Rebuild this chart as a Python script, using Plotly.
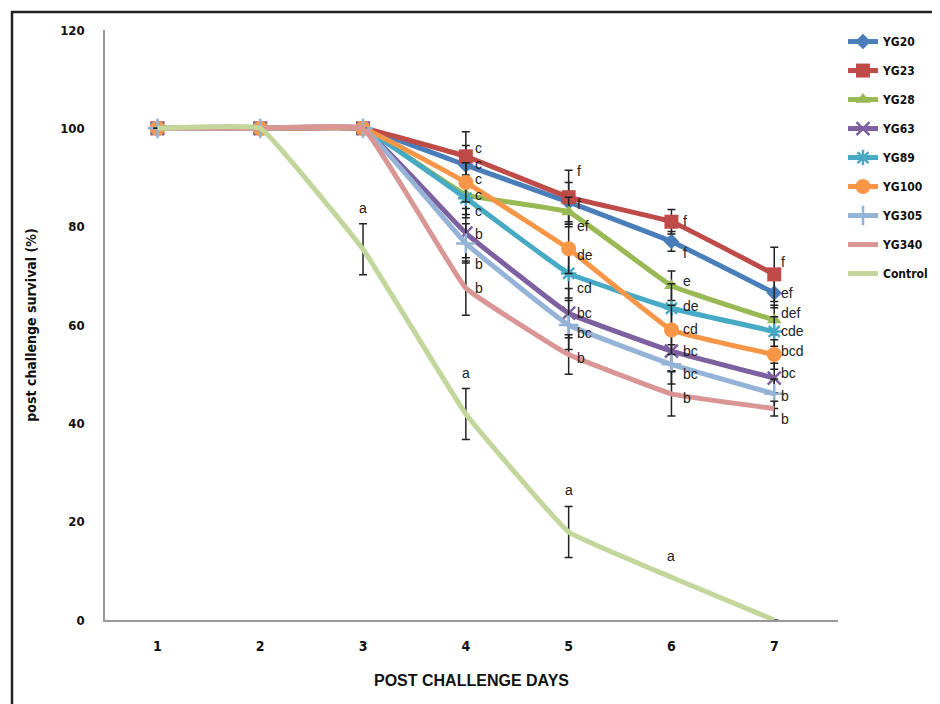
import plotly.graph_objects as go

days = [1, 2, 3, 4, 5, 6, 7]
series_names = ["YG20", "YG23", "YG28", "YG63", "YG89", "YG100", "YG305", "YG340", "Control"]

yg20 = [100, 100, 100, 92.5, 85, 77, 66.5]
yg23 = [100, 100, 100, 94.3, 86, 81, 70.3]
yg28 = [100, 100, 100, 86.5, 83, 68, 61]
yg63 = [100, 100, 100, 78.7, 62.4, 54.7, 49.2]
yg89 = [100, 100, 100, 85.8, 70.5, 63.4, 58.7]
yg100 = [100, 100, 100, 89, 75.5, 59, 54]
yg305 = [100, 100, 100, 76.6, 60, 52, 46]
yg340 = [100, 100, 100, 67.5, 54, 46, 43]
control = [100, 100, 75.4, 41.9, 17.9, 8.7, 0]

err20 = [0, 0, 0, 4, 4, 2, 3]
err23 = [0, 0, 0, 5, 5.5, 2.5, 5.5]
err28 = [0, 0, 0, 4, 3, 3, 3]
err63 = [0, 0, 0, 5, 5, 4, 3]
err89 = [0, 0, 0, 4, 5, 5, 3]
err100 = [0, 0, 0, 4, 5, 5, 3]
err305 = [0, 0, 0, 4, 5, 4, 3]
err340 = [0, 0, 0, 5.5, 4, 4.5, 1.5]
errctl = [0, 0, 5.2, 5.2, 5.2, 0, 0]

let20 = ["", "", "", "c", "f", "f", "ef"]
let23 = ["", "", "", "c", "f", "f", "f"]
let28 = ["", "", "", "c", "ef", "e", "def"]
let63 = ["", "", "", "b", "bc", "bc", "bc"]
let89 = ["", "", "", "c", "cd", "de", "cde"]
let100 = ["", "", "", "c", "de", "cd", "bcd"]
let305 = ["", "", "", "b", "bc", "bc", "b"]
let340 = ["", "", "", "b", "b", "b", "b"]
letctl = ["", "", "a", "a", "a", "a", ""]

y_ticks = [0, 20, 40, 60, 80, 100, 120]

values = [yg20, yg23, yg28, yg63, yg89, yg100, yg305, yg340, control]
errors = [err20, err23, err28, err63, err89, err100, err305, err340, errctl]
letters = [let20, let23, let28, let63, let89, let100, let305, let340, letctl]

# styles
colors = ["#4A7EBB", "#BE4B48", "#98B954", "#7D60A0", "#46AAC5", "#F79646", "#95B3D7", "#D99694", "#C3D69B"]
symbols = ["diamond", "square", "triangle-up", "x-thin", "asterisk", "circle", "cross-thin", None, None]
msizes = [12, 14, 13, 13, 13, 15, 14, 0, 0]
label_yshift = [
    [0, 0, 0, 1, -2, -12, 0],
    [0, 0, 0, 8, 26, 1, 12],
    [0, 0, 0, 0, -14, 5, 7],
    [0, 0, 0, -1, 0, 0, 5],
    [0, 0, 0, -13, -15, 2, 0],
    [0, 0, 0, 3, -6, 1, 4],
    [0, 0, 0, -21, -8, -10, -2],
    [0, 0, 0, 0, -3, -4, -10],
    [0, 0, 41, 41, 42, 21, 0],
]
label_xshift = [0, 0, 0, 7, 6, 10, 5]

fig = go.Figure()
label_font = dict(family="Liberation Sans, Arial, sans-serif", size=14, color="#222222")
annotations = []

for i, name in enumerate(series_names):
    sym = symbols[i]
    trace = dict(
        x=days, y=values[i], name=name, legendgroup=name,
        line=dict(color=colors[i], width=5, shape="spline", smoothing=0.25),
        error_y=dict(type="data", array=errors[i], color="#222222", thickness=1.5, width=4,
                     visible=True),
    )
    if sym is None:
        trace["mode"] = "lines"
    else:
        trace["mode"] = "lines+markers"
        if sym in ("x-thin", "asterisk", "cross-thin"):
            trace["marker"] = dict(symbol=sym, size=msizes[i], color=colors[i],
                                   line=dict(color=colors[i], width=2.5))
        else:
            trace["marker"] = dict(symbol=sym, size=msizes[i], color=colors[i])
    fig.add_trace(go.Scatter(**trace))

    for j, txt in enumerate(letters[i]):
        if not txt:
            continue
        if name == "Control":
            annotations.append(dict(x=days[j], y=values[i][j], text=txt, showarrow=False,
                                    xanchor="center", yanchor="middle",
                                    yshift=label_yshift[i][j], font=label_font))
        else:
            annotations.append(dict(x=days[j], y=values[i][j], text=txt, showarrow=False,
                                    xanchor="left", yanchor="middle",
                                    xshift=label_xshift[j], yshift=label_yshift[i][j],
                                    font=label_font))

cond_font = "DejaVu Sans Condensed, Liberation Sans, Arial, sans-serif"

# page body has an 8px offset; the plot area is placed at x 105..838, y 30..620 on screen
L, T, PW, PH = 97, 22, 733, 590
W, H = 932, 696

fig.update_layout(
    width=W, height=H,
    margin=dict(l=L, r=W - L - PW, t=T, b=H - T - PH, autoexpand=False),
    paper_bgcolor="white", plot_bgcolor="white",
    showlegend=True,
    legend=dict(x=1.0068, y=1.005, xanchor="left", yanchor="top",
                font=dict(family=cond_font, size=12, color="#111111", weight="bold"),
                tracegroupgap=10, bgcolor="rgba(0,0,0,0)", itemwidth=30),
    annotations=annotations,
    xaxis=dict(range=[0.49, 7.62], tickvals=days, ticktext=[str(d) for d in days],
               showgrid=False, zeroline=False, showline=True, linecolor="#999999", linewidth=1.5,
               ticks="", ticklabelstandoff=12,
               tickfont=dict(family=cond_font, size=14, color="#111111", weight="bold"),
               title=dict(text="POST CHALLENGE DAYS", standoff=22,
                          font=dict(family="Liberation Sans, Arial, sans-serif", size=16,
                                    color="#111111", weight="bold"))),
    yaxis=dict(range=[0, 120], tickvals=y_ticks, showgrid=False, zeroline=False,
               showline=True, linecolor="#999999", linewidth=1.5, ticks="",
               ticklabelstandoff=16,
               tickfont=dict(family=cond_font, size=13, color="#111111", weight="bold"),
               title=dict(text="post challenge survival (%)", standoff=20,
                          font=dict(family=cond_font, size=14, color="#111111", weight="bold"))),
)

# outer frame of the figure
fig.add_shape(type="rect", xref="paper", yref="paper",
              x0=(4 - L) / PW, x1=(W + 20 - L) / PW,
              y0=-(H + 20 - T - PH) / PH, y1=1 + (T - 4) / PH,
              line=dict(color="#222222", width=2.5), fillcolor="rgba(0,0,0,0)", layer="below")

fig.write_html("out.html")
